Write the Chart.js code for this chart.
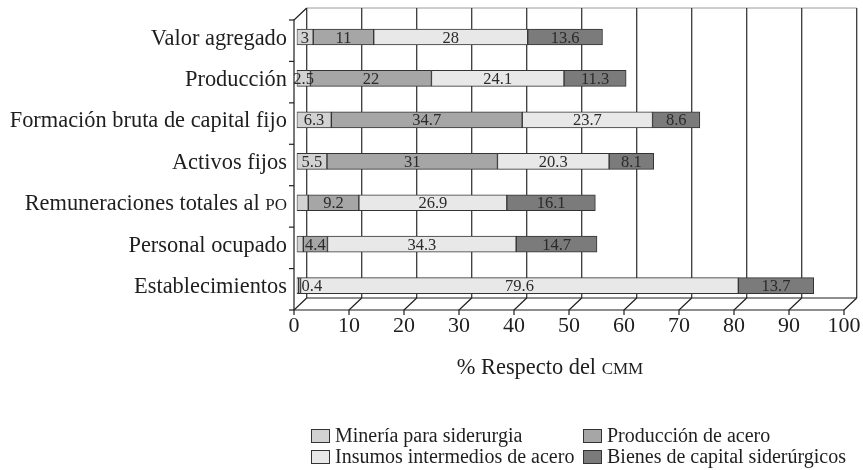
<!DOCTYPE html>
<html>
<head>
<meta charset="utf-8">
<script src="https://cdn.jsdelivr.net/npm/chart.js@4.4.1/dist/chart.umd.min.js"></script>
<style>
html,body{margin:0;padding:0;background:#fff;}
#wrap{position:relative;width:863px;height:470px;}
</style>
</head>
<body>
<div id="wrap"><canvas id="c"></canvas></div>
<script>
// ---------- DATA ----------
const categories = [
  'Valor agregado',
  'Producción',
  'Formación bruta de capital fijo',
  'Activos fijos',
  'Remuneraciones totales al PO',
  'Personal ocupado',
  'Establecimientos'
];
const seriesNames = [
  'Minería para siderurgia',
  'Producción de acero',
  'Insumos intermedios de acero',
  'Bienes de capital siderúrgicos'
];
const mineria    = [3, 2.5, 6.3, 5.5, 2.1, 1.2, 0.3];
const produccion = [11, 22, 34.7, 31, 9.2, 4.4, 0.4];
const insumos    = [28, 24.1, 23.7, 20.3, 26.9, 34.3, 79.6];
const bienes     = [13.6, 11.3, 8.6, 8.1, 16.1, 14.7, 13.7];
// segments printed without a number in the source (series index -> category indexes)
const unlabeled  = [[4, 5, 6], [], [], []];
const xTicks     = [0, 10, 20, 30, 40, 50, 60, 70, 80, 90, 100];
const axisTitle  = '% Respecto del CMM';

// ---------- STYLE ----------
const SERIF = '"Liberation Serif","Times New Roman",serif';
const colors = ['#d2d2d2', '#a6a6a6', '#e8e8e8', '#7b7b7b'];
const INK = '#1e1e1e';
// pseudo-3D depth offsets relative to the bar plane
const FRONT_DX = -2.7, BACK_DX = 10.0;
const FRONT_DY = 3.7,  BACK_DY = -8.3;

// draw text where all-caps words (2+ letters) are rendered as small caps
function richParts(text){
  return text.split(/(\s+)/).filter(s => s.length).map(t => ({t, sc: /^[A-Z]{2,}$/.test(t)}));
}
function richWidth(ctx, parts, size){
  let w = 0;
  for (const p of parts){
    ctx.font = (p.sc ? (size*0.76).toFixed(2) : size) + 'px ' + SERIF;
    w += ctx.measureText(p.t).width;
  }
  return w;
}
function drawRich(ctx, text, x, yBase, size, align){
  const parts = richParts(text);
  const w = richWidth(ctx, parts, size);
  let cx = align === 'right' ? x - w : (align === 'center' ? x - w/2 : x);
  ctx.textAlign = 'left';
  ctx.textBaseline = 'alphabetic';
  for (const p of parts){
    ctx.font = (p.sc ? (size*0.76).toFixed(2) : size) + 'px ' + SERIF;
    ctx.fillText(p.t, cx, yBase);
    cx += ctx.measureText(p.t).width;
  }
}

const wallPlugin = {
  id: 'wall',
  beforeDatasetsDraw(chart){
    const {ctx, chartArea: a, scales: {x, y}} = chart;
    const fx = v => x.getPixelForValue(v) + FRONT_DX;
    const bx = v => x.getPixelForValue(v) + BACK_DX;
    const fTop = a.top + FRONT_DY, fBot = a.bottom + FRONT_DY;
    const bTop = a.top + BACK_DY,  bBot = a.bottom + BACK_DY;
    ctx.save();
    // back wall top border
    ctx.strokeStyle = '#9a9a9a'; ctx.lineWidth = 1;
    ctx.beginPath(); ctx.moveTo(bx(0), bTop); ctx.lineTo(bx(100), bTop); ctx.stroke();
    // back wall gridlines
    ctx.strokeStyle = '#3a3a3a'; ctx.lineWidth = 1.3;
    for (const v of xTicks){
      ctx.beginPath(); ctx.moveTo(bx(v), bTop); ctx.lineTo(bx(v), bBot); ctx.stroke();
    }
    // floor
    ctx.strokeStyle = INK; ctx.lineWidth = 1.2;
    ctx.beginPath(); ctx.moveTo(bx(0), bBot); ctx.lineTo(bx(100), bBot); ctx.stroke();
    ctx.beginPath(); ctx.moveTo(fx(0), fBot); ctx.lineTo(fx(100), fBot); ctx.stroke();
    for (const v of xTicks){
      ctx.beginPath(); ctx.moveTo(bx(v), bBot); ctx.lineTo(fx(v), fBot); ctx.lineTo(fx(v), fBot + 5); ctx.stroke();
    }
    // left wall
    ctx.beginPath(); ctx.moveTo(bx(0), bTop); ctx.lineTo(fx(0), fTop); ctx.lineTo(fx(0), fBot); ctx.stroke();
    const n = categories.length, band = (a.bottom - a.top) / n;
    for (let k = 0; k <= n; k++){
      const yy = a.top + k*band + FRONT_DY;
      ctx.beginPath(); ctx.moveTo(fx(0) - 5, yy); ctx.lineTo(fx(0), yy); ctx.stroke();
    }
    ctx.restore();
  },
  afterDatasetsDraw(chart){
    const {ctx} = chart;
    ctx.save();
    ctx.fillStyle = '#2a2a2a';
    ctx.font = '16.5px ' + SERIF;
    ctx.textBaseline = 'alphabetic';
    chart.data.datasets.forEach((ds, di) => {
      const meta = chart.getDatasetMeta(di);
      meta.data.forEach((el, i) => {
        if (unlabeled[di].includes(i)) return;
        const p = el.getProps(['x', 'base', 'y', 'height'], true);
        const l = Math.min(p.x, p.base), r = Math.max(p.x, p.base);
        const txt = String(ds.data[i]);
        const yb = p.y + p.height/2 - 2.5;
        if (r - l < 5){ ctx.textAlign = 'left'; ctx.fillText(txt, r + 1, yb); }
        else { ctx.textAlign = 'center'; ctx.fillText(txt, (l + r)/2, yb); }
      });
    });
    ctx.restore();
  },
  afterDraw(chart){
    const {ctx, chartArea: a, scales: {x, y}} = chart;
    const fx = v => x.getPixelForValue(v) + FRONT_DX;
    ctx.save();
    ctx.fillStyle = INK;
    // category labels
    categories.forEach((c, i) => {
      drawRich(ctx, c, fx(0) - 7, y.getPixelForValue(i) + 7.5, 22.4, 'right');
    });
    // x tick labels
    ctx.font = '22px ' + SERIF; ctx.textAlign = 'center'; ctx.textBaseline = 'alphabetic';
    xTicks.forEach(v => ctx.fillText(String(v), fx(v), a.bottom + 25.5));
    // axis title
    drawRich(ctx, axisTitle, (fx(0) + fx(100))/2 - 19, a.bottom + 68, 22.4, 'center');
    // legend (2 x 2 grid)
    const cols = [311, 583], rows = [436, 457];
    chart.data.datasets.forEach((ds, i) => {
      const cx = cols[i % 2], cy = rows[Math.floor(i / 2)];
      ctx.fillStyle = ds.backgroundColor;
      ctx.fillRect(cx, cy - 7, 19, 14);
      ctx.strokeStyle = '#333'; ctx.lineWidth = 1;
      ctx.strokeRect(cx + 0.5, cy - 6.5, 18, 13);
      ctx.fillStyle = INK;
      ctx.font = '20px ' + SERIF; ctx.textAlign = 'left'; ctx.textBaseline = 'middle';
      ctx.fillText(ds.label, cx + 24, cy + 1);
    });
    ctx.restore();
  }
};

const seriesData = [mineria, produccion, insumos, bienes];
new Chart(document.getElementById('c'), {
  type: 'bar',
  data: {
    labels: categories,
    datasets: seriesData.map((d, i) => ({
      label: seriesNames[i],
      data: d,
      backgroundColor: colors[i],
      borderColor: '#333',
      borderWidth: 1,
      borderSkipped: false,
      barThickness: 16
    }))
  },
  options: {
    indexAxis: 'y',
    responsive: true,
    maintainAspectRatio: false,
    animation: false,
    layout: {padding: {left: 296.7, right: 16.3, top: 16.3, bottom: 163.7}},
    scales: {
      x: {stacked: true, min: 0, max: 100, display: false},
      y: {stacked: true, display: false}
    },
    plugins: {legend: {display: false}, tooltip: {enabled: false}}
  },
  plugins: [wallPlugin]
});
</script>
</body>
</html>
